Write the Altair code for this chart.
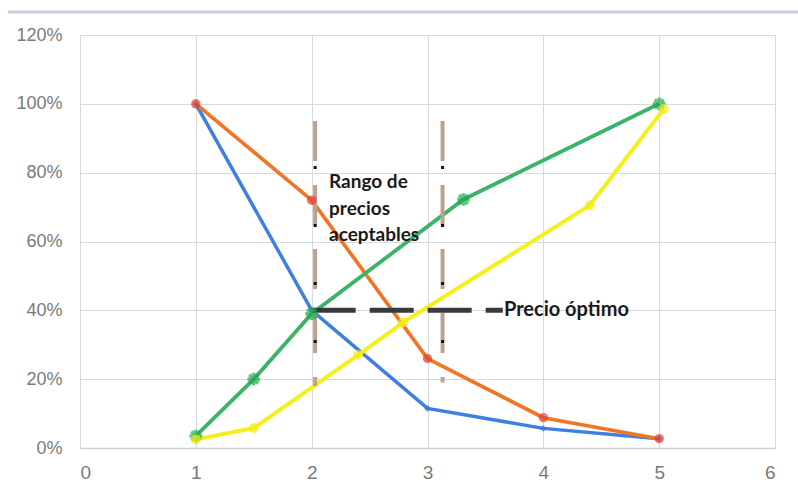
import altair as alt
import pandas as pd

# ---- data ----
blue_x = [1, 2, 3, 4, 5]
blue_y = [1.00, 0.40, 0.115, 0.057, 0.027]

orange_x = [1, 2, 3, 4, 5]
orange_y = [1.00, 0.72, 0.26, 0.088, 0.027]

green_x = [1, 1.5, 2, 3.31, 5]
green_y = [0.035, 0.20, 0.39, 0.722, 1.00]

yellow_x = [1, 1.5, 2.4, 2.79, 4.4, 5.04]
yellow_y = [0.025, 0.058, 0.27, 0.365, 0.705, 0.985]

series_names = ["azul", "naranja", "verde", "amarillo"]
line_colors = ["#3f7fe0", "#f07524", "#3bb36b", "#f5f01a"]
line_widths = [3.5, 4, 5, 4]

range_x = [2.03, 3.13]
range_top = [0.95, 0.95]
range_bottom = [0.18, 0.19]

opt_x = [2.0]
opt_x2 = [3.65]
opt_y = [0.40]

rango_lines = ["Rango de", "precios", "aceptables"]
rango_x = [2.15, 2.15, 2.15]
rango_y = [0.774, 0.693, 0.62]

precio_label = ["Precio óptimo"]
precio_x = [3.66]
precio_y = [0.40]

x_ticks = [0, 1, 2, 3, 4, 5, 6]
y_ticks = [0, 0.2, 0.4, 0.6, 0.8, 1.0, 1.2]

# ---- tables ----
rows = []
for name, xs, ys in zip(series_names, [blue_x, orange_x, green_x, yellow_x],
                        [blue_y, orange_y, green_y, yellow_y]):
    for i, (xv, yv) in enumerate(zip(xs, ys)):
        rows.append({"serie": name, "x": xv, "y": yv, "ord": i})
df = pd.DataFrame(rows)

df_range = pd.DataFrame({"x": range_x, "y": range_top, "y2": range_bottom})
df_opt = pd.DataFrame({"x": opt_x, "x2": opt_x2, "y": opt_y})
df_rango = pd.DataFrame({"x": rango_x, "y": rango_y, "t": rango_lines})
df_precio = pd.DataFrame({"x": precio_x, "y": precio_y, "t": precio_label})

xscale = alt.Scale(domain=[0, 6], nice=False, zero=False)
yscale = alt.Scale(domain=[0, 1.2], nice=False)

xaxis = alt.Axis(values=x_ticks, format="d", title=None, grid=True, gridColor="#d9d9d9",
                 domainColor="#d0d0d0", domainWidth=1.5, ticks=False, labelPadding=15,
                 labelColor="#7a7a7a", labelFontSize=19, labelFont="Liberation Sans")
yaxis = alt.Axis(values=y_ticks, format=".0%", title=None, grid=True, gridColor="#d9d9d9",
                 domain=False, ticks=False, labelPadding=18,
                 labelColor="#7a7a7a", labelFontSize=18, labelFont="Liberation Sans")

base = alt.Chart(df)

lines = base.mark_line().encode(
    x=alt.X("x:Q", scale=xscale, axis=xaxis),
    y=alt.Y("y:Q", scale=yscale, axis=yaxis),
    color=alt.Color("serie:N", scale=alt.Scale(domain=series_names, range=line_colors), legend=None),
    strokeWidth=alt.StrokeWidth("serie:N", scale=alt.Scale(domain=series_names, range=line_widths), legend=None),
    order="ord:Q",
    detail="serie:N",
)

pts_blue = base.transform_filter(alt.datum.serie == "azul").mark_point(
    shape="diamond", filled=True, size=45, color="#3a78dc").encode(x="x:Q", y="y:Q")
pts_orange = base.transform_filter(alt.datum.serie == "naranja").mark_point(
    shape="circle", filled=True, size=90, color="#e2402e").encode(x="x:Q", y="y:Q")
star_path = "M0,-1L0,1M-1,0L1,0M-0.7,-0.7L0.7,0.7M-0.7,0.7L0.7,-0.7"
pts_green = base.transform_filter(alt.datum.serie == "verde").mark_point(
    shape=star_path, filled=False, size=160, strokeWidth=3.5, color="#1faa4a").encode(x="x:Q", y="y:Q")
pts_yellow = base.transform_filter(alt.datum.serie == "amarillo").mark_point(
    shape="circle", filled=True, size=100, color="#f5ea14").encode(x="x:Q", y="y:Q")

vrules = alt.Chart(df_range).mark_rule(color="#bca291", strokeWidth=4, strokeDash=[40, 24]).encode(
    x="x:Q", y="y:Q", y2="y2:Q")
vdots = alt.Chart(df_range).mark_rule(color="#111111", strokeWidth=3, strokeDash=[3, 55], strokeDashOffset=-45).encode(
    x=alt.X("x:Q"), y="y:Q", y2="y2:Q")

hrule = alt.Chart(df_opt).mark_rule(color="#3a3a3a", strokeWidth=5, strokeDash=[44, 14]).encode(
    x="x:Q", x2="x2:Q", y="y:Q")

rango_text = alt.Chart(df_rango).mark_text(align="left", baseline="middle", fontSize=19,
                                           fontWeight="bold", font="Lato", color="#1a1a1a").encode(
    x="x:Q", y="y:Q", text="t:N")
precio_text = alt.Chart(df_precio).mark_text(align="left", baseline="middle", fontSize=20,
                                             fontWeight="bold", font="Lato", color="#1a1a1a").encode(
    x="x:Q", y="y:Q", text="t:N")

top_border = alt.Chart(pd.DataFrame({"k": [0]})).mark_rule(color="#c9ccdc", strokeWidth=3).encode(
    x=alt.value(-72), x2=alt.value(718), y=alt.value(-23))

chart = alt.layer(
    lines, vrules, vdots, hrule, pts_blue, pts_orange, pts_green, pts_yellow,
    rango_text, precio_text, top_border
).properties(
    width=695, height=413,
    autosize=alt.AutoSizeParams(type="none"),
    padding={"left": 80, "top": 35, "right": 23, "bottom": 41},
).configure_view(stroke=None).configure(background="white")

chart.save("out.html", embed_options={"renderer": "svg", "actions": False})
